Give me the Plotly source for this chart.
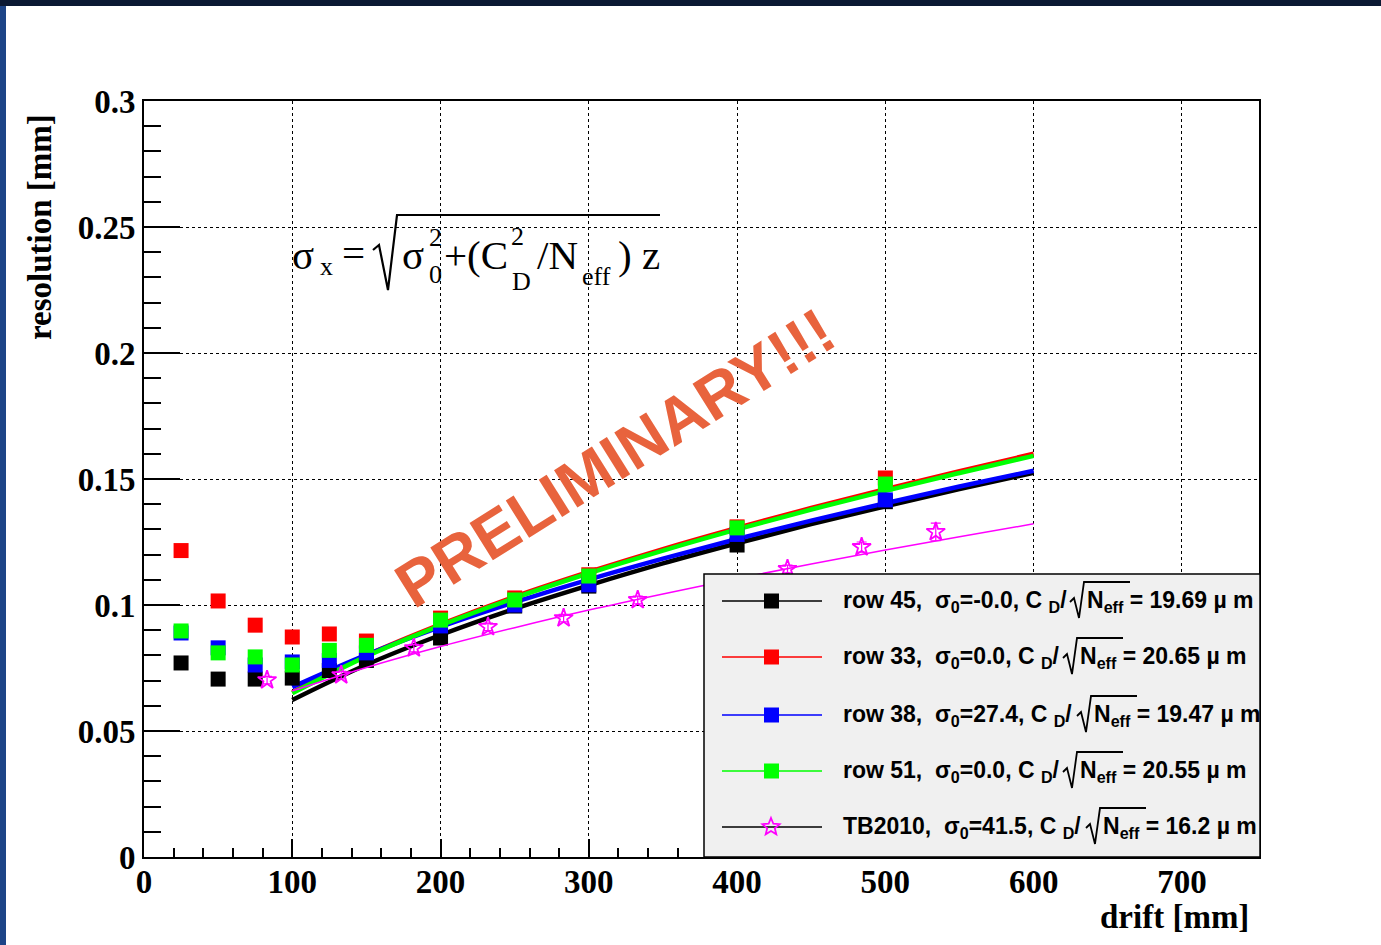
import math
import plotly.graph_objects as go

# ---------------- data ----------------
x_rows = [25, 50, 75, 100, 125, 150, 200, 250, 300, 400, 500]
row45 = [0.0770, 0.0706, 0.0706, 0.0710, 0.0740, 0.0780, 0.0869, 0.0996, 0.1075, 0.1238, 0.1410]
row33 = [0.1216, 0.1016, 0.0920, 0.0873, 0.0885, 0.0857, 0.0948, 0.1028, 0.1120, 0.1310, 0.1504]
row38 = [0.0889, 0.0830, 0.0762, 0.0774, 0.0780, 0.0810, 0.0917, 0.1000, 0.1080, 0.1280, 0.1417]
row51 = [0.0897, 0.0810, 0.0794, 0.0762, 0.0820, 0.0840, 0.0940, 0.1020, 0.1115, 0.1306, 0.1480]

tb_x = [83, 133, 182, 232, 283, 333, 384, 434, 484, 534]
tb_y = [0.0702, 0.0722, 0.0829, 0.0913, 0.0948, 0.1020, 0.1065, 0.1143, 0.1230, 0.1290]
tb_err = [0.0015, 0.0015, 0.0015, 0.0015, 0.0015, 0.0015, 0.0015, 0.0015, 0.0020, 0.0035]

fit_x = [100, 150, 200, 250, 300, 350, 400, 450, 500, 550, 600]
fit45 = [0.0623, 0.0763, 0.0881, 0.0985, 0.1078, 0.1165, 0.1245, 0.1321, 0.1392, 0.1460, 0.1525]
fit33 = [0.0653, 0.0800, 0.0923, 0.1033, 0.1131, 0.1222, 0.1306, 0.1385, 0.1460, 0.1531, 0.1600]
fit38 = [0.0674, 0.0802, 0.0913, 0.1011, 0.1101, 0.1184, 0.1262, 0.1335, 0.1404, 0.1470, 0.1533]
fit51 = [0.0650, 0.0796, 0.0919, 0.1028, 0.1126, 0.1216, 0.1300, 0.1379, 0.1453, 0.1524, 0.1592]
fitTB = [0.0659, 0.0752, 0.0835, 0.0910, 0.0980, 0.1044, 0.1105, 0.1163, 0.1218, 0.1271, 0.1322]

x_ticks = [0, 100, 200, 300, 400, 500, 600, 700]
y_ticks = [0, 0.05, 0.1, 0.15, 0.2, 0.25, 0.3]
y_tick_text = ["0", "0.05", "0.1", "0.15", "0.2", "0.25", "0.3"]

leg_names = ["row 45", "row 33", "row 38", "row 51", "TB2010"]
leg_sigma0 = ["-0.0", "0.0", "27.4", "0.0", "41.5"]
leg_cd = ["19.69", "20.65", "19.47", "20.55", "16.2"]
leg_colors = ["#000000", "#ff0000", "#0000ff", "#00ff00", "#ff00ff"]

# ---------------- layout geometry ----------------
W, H = 1381, 945
L, R, T, B = 144, 1259, 101, 857


def px(x):
    return (x - L) / (R - L)


def py(y):
    return (B - y) / (B - T)


def path(points):
    return "M " + " L ".join(f"{px(a):.5f},{py(b):.5f}" for a, b in points)


fig = go.Figure()

series = [(row45, fit45), (row33, fit33), (row38, fit38), (row51, fit51)]
for (vals, fit), col in zip(series, leg_colors[:4]):
    fig.add_trace(go.Scatter(x=fit_x, y=fit, mode="lines", line=dict(color=col, width=4.5, shape="spline"),
                             showlegend=False, hoverinfo="skip"))
for (vals, fit), col in zip(series, leg_colors[:4]):
    fig.add_trace(go.Scatter(x=x_rows, y=vals, mode="markers",
                             marker=dict(symbol="square", size=15, color=col, line=dict(width=0)),
                             showlegend=False))

fig.add_trace(go.Scatter(x=fit_x, y=fitTB, mode="lines", line=dict(color="#ff00ff", width=1.5, shape="spline"),
                         showlegend=False, hoverinfo="skip"))
fig.add_trace(go.Scatter(x=tb_x, y=tb_y, mode="markers",
                         error_y=dict(type="data", array=tb_err, color="#ff00ff", thickness=1.2, width=5),
                         marker=dict(symbol="star-open", size=14, color="#ff00ff", line=dict(width=1.8, color="#ff00ff")),
                         showlegend=False))

shapes = []
annotations = []

# background decoration (slide frame)
shapes.append(dict(type="rect", xref="paper", yref="paper", x0=px(0), x1=px(W), y0=py(6), y1=py(-2),
                   fillcolor="#0b1933", line=dict(width=0), layer="above"))
shapes.append(dict(type="rect", xref="paper", yref="paper", x0=px(-2), x1=px(6), y0=py(W), y1=py(6),
                   fillcolor="#1d4487", line=dict(width=0), layer="above"))

# legend box
shapes.append(dict(type="rect", xref="paper", yref="paper", x0=px(704), x1=px(1260), y0=py(857), y1=py(574),
                   fillcolor="#f0f0f0", line=dict(color="black", width=1.5), layer="above"))
row_y = [601, 657, 715, 771, 827]
n_pos = [1086, 1079, 1093, 1079, 1102]
for i in range(5):
    yc = row_y[i]
    shapes.append(dict(type="line", xref="paper", yref="paper", x0=px(722), x1=px(822), y0=py(yc), y1=py(yc),
                       line=dict(color=leg_colors[i] if i < 4 else "black", width=1.5), layer="above"))
    if i < 4:
        shapes.append(dict(type="rect", xref="paper", yref="paper", x0=px(764), x1=px(779), y0=py(yc + 7.5),
                           y1=py(yc - 7.5), fillcolor=leg_colors[i], line=dict(width=0), layer="above"))
    else:
        pts = []
        for k in range(10):
            r = 9 if k % 2 == 0 else 4
            ang = -math.pi / 2 + k * math.pi / 5
            pts.append((771 + r * math.cos(ang), yc + r * math.sin(ang)))
        shapes.append(dict(type="path", xref="paper", yref="paper", path=path(pts) + " Z",
                           line=dict(color="#ff00ff", width=1.8), layer="above"))
    xn = n_pos[i]
    shapes.append(dict(type="path", xref="paper", yref="paper",
                       path=path([(xn - 16, yc + 1), (xn - 12, yc - 3), (xn - 7, yc + 17), (xn - 2, yc - 19),
                                  (xn + 44, yc - 19)]),
                       line=dict(color="black", width=1.8), layer="above"))
    lf = dict(family="Liberation Sans, Arial", size=23, color="black", weight="bold")
    annotations.append(dict(xref="paper", yref="paper", x=px(841), y=py(yc), xanchor="left", yanchor="middle",
                            text=f"{leg_names[i]},  σ<sub>0</sub>=" + leg_sigma0[i] + ", C <sub>D</sub>/",
                            showarrow=False, font=lf))
    annotations.append(dict(xref="paper", yref="paper", x=px(xn - 1), y=py(yc), xanchor="left", yanchor="middle",
                            text=f"N<sub>eff</sub> = {leg_cd[i]} µ m", showarrow=False, font=lf))

# formula
ff = "Liberation Serif, Times New Roman"
big, small = 41, 26
formula_parts = [
    ("σ", 290, 255, big), ("x", 318, 266, small), ("=", 340, 253, big),
    ("σ", 400, 255, big), ("2", 427, 238, small), ("0", 427, 274, small),
    ("+(C", 442, 255, big), ("2", 509, 236, small), ("D", 510, 281, small),
    ("/N", 535, 255, big), ("eff", 580, 276, small), (") z", 616, 255, big),
]
for txt, xx, yy, sz in formula_parts:
    annotations.append(dict(xref="paper", yref="paper", x=px(xx), y=py(yy), xanchor="left", yanchor="middle",
                            text=txt, showarrow=False, font=dict(family=ff, size=sz, color="black")))
shapes.append(dict(type="path", xref="paper", yref="paper",
                   path=path([(373, 250), (379, 245), (388, 290), (397, 215), (660, 215)]),
                   line=dict(color="black", width=2.2), layer="above"))

# PRELIMINARY stamp
annotations.append(dict(xref="paper", yref="paper", x=px(615), y=py(458), text="PRELIMINARY!!!", textangle=-32,
                        showarrow=False, font=dict(family="Liberation Sans, Arial", size=64, color="#e8633d",
                                                   weight="bold")))

# axis titles
tf = dict(family=ff, size=33, color="black", weight="bold")
annotations.append(dict(xref="paper", yref="paper", x=px(40), y=py(227), text="resolution [mm]", textangle=-90,
                        showarrow=False, font=tf, xanchor="center", yanchor="middle"))
annotations.append(dict(xref="paper", yref="paper", x=px(1251), y=py(917), text="drift [mm]",
                        showarrow=False, font=tf, xanchor="right", yanchor="middle"))

tickfont = dict(family=ff, size=33, color="black", weight="bold")
fig.update_layout(
    width=W, height=H,
    margin=dict(l=L, r=W - R, t=T, b=H - B, pad=0),
    paper_bgcolor="white", plot_bgcolor="white",
    showlegend=False,
    shapes=shapes, annotations=annotations,
    xaxis=dict(range=[0, 752], tickvals=x_ticks, ticktext=[str(v) for v in x_ticks],
               ticks="inside", ticklen=18, tickwidth=1.5, tickcolor="black",
               minor=dict(dtick=20, ticks="inside", ticklen=9, tickwidth=1.5, tickcolor="black", showgrid=False),
               showline=True, linecolor="black", linewidth=2, mirror=True,
               showgrid=True, gridcolor="black", gridwidth=1, griddash="dot", zeroline=False,
               tickfont=tickfont, ticklabelstandoff=-6),
    yaxis=dict(range=[0, 0.3], tickvals=y_ticks, ticktext=y_tick_text,
               ticks="inside", ticklen=36, tickwidth=1.5, tickcolor="black",
               minor=dict(dtick=0.01, ticks="inside", ticklen=17, tickwidth=1.5, tickcolor="black", showgrid=False),
               showline=True, linecolor="black", linewidth=2, mirror=True,
               showgrid=True, gridcolor="black", gridwidth=1, griddash="dot", zeroline=False,
               tickfont=tickfont, ticklabelstandoff=0),
)

fig.write_html("out.html")
